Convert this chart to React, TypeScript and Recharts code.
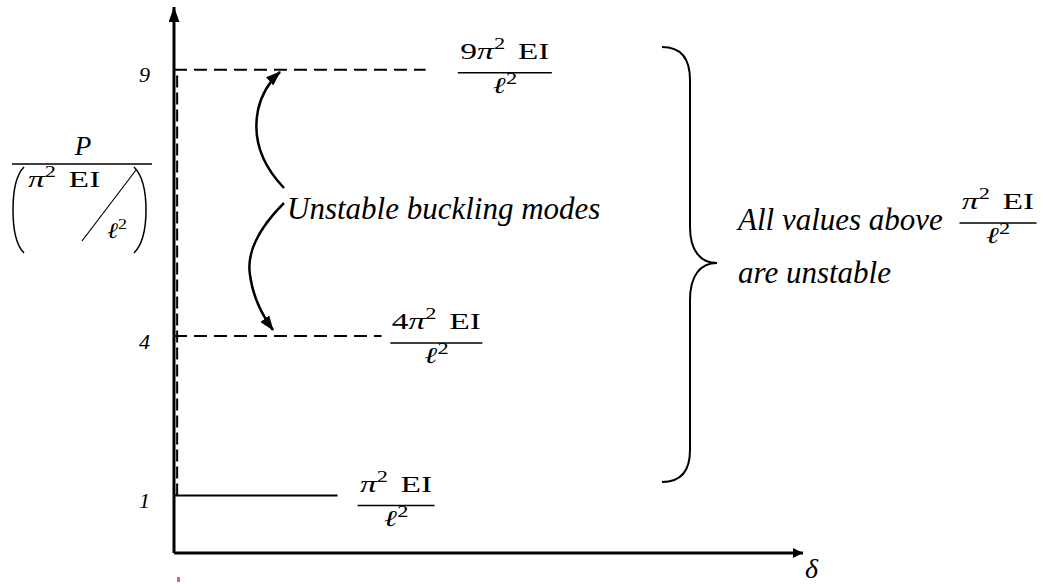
import React from 'react';
import { LineChart, Line, XAxis, YAxis, ReferenceLine, ReferenceDot } from 'recharts';

// P / (π²EI/ℓ²) levels of the first three buckling modes
const modeLevels = [1, 4, 9];
// how far along δ each level line is drawn
const modeLineEnds = [26, 33, 40];
const modeLineDashed = [false, true, true];
const yTicks = [1, 4, 9];
// fraction labels next to each level line
const fracLeads = ['', '4', '9'];
const fracCentres = [35.3, 41.7, 52.6];

const SERIF = "'Liberation Serif', 'Times New Roman', serif";
const FRAC_DROP = [10, 7, 3];
const FRAC_BAR = [77, 92, 94];
const SX = 1.4;

function Frac({ cx, cy, lead, w }: { cx: number; cy: number; lead: string; w: number }) {
  return (
    <g transform={`translate(${cx},${cy}) scale(${SX},1)`} fontFamily={SERIF} fill="#000">
      <text x={0} y={-14} textAnchor="middle" fontSize={24}>
        {lead}
        <tspan fontStyle="italic">π</tspan>
        <tspan dy={-10} fontSize={16}>2</tspan>
        <tspan dy={10} dx={3}> EI</tspan>
      </text>
      <line x1={-w / SX / 2} x2={w / SX / 2} y1={0} y2={0} stroke="#000" strokeWidth={1.5} />
      <text x={0} y={20} textAnchor="middle" fontSize={23}>
        <tspan fontStyle="italic">ℓ</tspan>
        <tspan dy={-9} fontSize={16}>2</tspan>
      </text>
    </g>
  );
}

const YTick = ({ x, y, payload }: any) => (
  <text x={x} y={y + 5} dy="0.35em" textAnchor="end" fontFamily={SERIF} fontStyle="italic" fontSize={22} fill="#000">
    {payload.value}
  </text>
);

export default function App() {
  const lines = modeLevels.map((p, i) => [
    { d: 0, p },
    { d: modeLineEnds[i], p },
  ]);

  return (
    <div style={{ position: 'absolute', left: 0, top: 0, width: 1043, height: 584, background: '#fff' }}>
      <svg width={0} height={0} style={{ position: 'absolute' }}>
        <defs>
          <marker id="axisHeadX" markerUnits="userSpaceOnUse" markerWidth={10} markerHeight={10} refX={10} refY={5} orient="auto">
            <path d="M0,0 L10,5 L0,10 z" fill="#000" />
          </marker>
          <marker id="axisHeadY" markerUnits="userSpaceOnUse" markerWidth={15} markerHeight={11} refX={15} refY={5.5} orient="auto-start-reverse">
            <path d="M0,0 L15,5.5 L0,11 z" fill="#000" />
          </marker>
          <marker id="curveHead" markerUnits="userSpaceOnUse" markerWidth={15} markerHeight={11} refX={14} refY={5.5} orient="auto">
            <path d="M0,0 L15,5.5 L0,11 z" fill="#000" />
          </marker>
        </defs>
      </svg>

      <LineChart width={1043} height={584} margin={{ top: 7, right: 240, bottom: 0, left: 114 }}>
        <XAxis
          type="number"
          dataKey="d"
          domain={[0, 100]}
          ticks={[]}
          tick={false}
          tickLine={false}
          height={31}
          allowDataOverflow
          axisLine={{ stroke: '#000', strokeWidth: 3, markerEnd: 'url(#axisHeadX)' }}
        />
        <YAxis
          type="number"
          dataKey="p"
          domain={[-0.08, 10.18]}
          ticks={yTicks}
          tick={<YTick />}
          tickLine={false}
          tickSize={0}
          tickMargin={24}
          width={60}
          allowDataOverflow
          axisLine={{ stroke: '#000', strokeWidth: 3, markerStart: 'url(#axisHeadY)' }}
        />
        <ReferenceLine
          segment={[{ x: 0.5, y: 1 }, { x: 0.5, y: 9 }]}
          stroke="#000"
          strokeWidth={2}
          strokeDasharray="12 5"
        />
        {lines.map((data, i) => (
          <Line
            key={i}
            data={data}
            dataKey="p"
            stroke="#000"
            strokeWidth={2}
            strokeDasharray={modeLineDashed[i] ? '13 7' : undefined}
            dot={false}
            activeDot={false}
            isAnimationActive={false}
          />
        ))}
        {modeLevels.map((p, i) => (
          <ReferenceDot
            key={'f' + i}
            x={fracCentres[i]}
            y={p}
            r={0}
            shape={(s: any) => <Frac cx={s.cx} cy={s.cy + FRAC_DROP[i]} lead={fracLeads[i]} w={FRAC_BAR[i]} />}
          />
        ))}
      </LineChart>

      <svg width={1043} height={584} style={{ position: 'absolute', left: 0, top: 0, pointerEvents: 'none' }}>
        {/* y axis title: P / (π²EI/ℓ²) */}
        <g fontFamily={SERIF} fill="#000">
          <text x={83} y={155} textAnchor="middle" fontSize={27} fontStyle="italic">P</text>
          <line x1={12} x2={152} y1={164} y2={164} stroke="#000" strokeWidth={1.5} />
          <path d="M24,167 C15,176 13,192 13,210 C13,228 15,244 24,253" fill="none" stroke="#000" strokeWidth={1.5} />
          <path d="M134,167 C143,176 146,192 146,210 C146,228 143,244 134,253" fill="none" stroke="#000" strokeWidth={1.5} />
          <g transform="translate(28,187) scale(1.4,1)">
            <text fontSize={24}>
              <tspan fontStyle="italic">π</tspan>
              <tspan dy={-10} fontSize={16}>2</tspan>
              <tspan dy={10} dx={3}> EI</tspan>
            </text>
          </g>
          <line x1={136} y1={170} x2={82} y2={241} stroke="#000" strokeWidth={1.2} />
          <g transform="translate(107,238) scale(1.2,1)">
            <text fontSize={22}>
              <tspan fontStyle="italic">ℓ</tspan>
              <tspan dy={-9} fontSize={15}>2</tspan>
            </text>
          </g>
        </g>

        {/* curved arrows */}
        <path d="M284,188 C262,165 252,140 258,110 C262,92 270,81 280,72" fill="none" stroke="#000" strokeWidth={2.5} markerEnd="url(#curveHead)" />
        <path d="M284,203 C262,225 246,250 250,275 C253,298 262,315 273,330" fill="none" stroke="#000" strokeWidth={2.5} markerEnd="url(#curveHead)" />
        <text x={287} y={219} fontFamily={SERIF} fontStyle="italic" fontSize={31} fill="#000">Unstable buckling modes</text>

        {/* brace and note */}
        <path
          d="M662,47 C682,47 690,60 690,80 L690,227 C690,250 700,263 717,263 C700,263 690,276 690,300 L690,450 C690,470 682,482 662,482"
          fill="none"
          stroke="#000"
          strokeWidth={2}
        />
        <text x={738} y={230} fontFamily={SERIF} fontStyle="italic" fontSize={31} fill="#000">All values above</text>
        <text x={738} y={283} fontFamily={SERIF} fontStyle="italic" fontSize={31} fill="#000">are unstable</text>
        <Frac cx={998} cy={223} lead="" w={77} />

        <text x={805} y={578} fontFamily={SERIF} fontStyle="italic" fontSize={28} fill="#000">δ</text>
        <rect x={177} y={577} width={3} height={5} fill="#e8588a" />
      </svg>
    </div>
  );
}
